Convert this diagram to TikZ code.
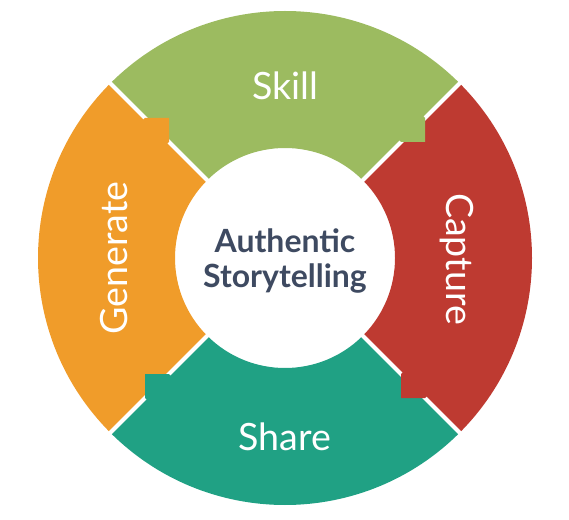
\documentclass[tikz,border=0pt]{standalone}
\usepackage{fontspec}
\setmainfont{Lato}
\usetikzlibrary{positioning}

\definecolor{skillgreen}{RGB}{156,187,96}
\definecolor{capturered}{RGB}{190,58,49}
\definecolor{shareteal}{RGB}{32,161,132}
\definecolor{genorange}{RGB}{240,156,42}
\definecolor{coreblue}{RGB}{62,74,97}

\begin{document}
\begin{tikzpicture}[
  seglabel/.style={text=white, inner sep=0pt, font=\fontsize{10.7}{12}\selectfont},
  corelabel/.style={text=coreblue, inner sep=0pt, align=center, font=\fontsize{9.1}{10.2}\selectfont\bfseries},
  gap/.style={white, line width=0.04cm}
]

\useasboundingbox (-2.85,-2.62) rectangle (2.84,2.58);

% Radii of the ring
\def\rin{1.10}
\def\rout{2.47}

% Skill (top)
\fill[skillgreen] (45:\rin) arc (45:135:\rin) -- (135:\rout) arc (135:45:\rout) -- cycle;
% Capture (right)
\fill[capturered] (-45:\rin) arc (-45:45:\rin) -- (45:\rout) arc (45:-45:\rout) -- cycle;
% Share (bottom)
\fill[shareteal] (-135:\rin) arc (-135:-45:\rin) -- (-45:\rout) arc (-45:-135:\rout) -- cycle;
% Generate (left)
\fill[genorange] (135:\rin) arc (135:225:\rin) -- (225:\rout) arc (225:135:\rout) -- cycle;

% White gaps between the parts
\draw[gap] (45:1.0) -- (45:2.6);
\draw[gap] (-45:1.0) -- (-45:2.6);
\draw[gap] (135:1.0) -- (135:2.6);
\draw[gap] (-135:1.0) -- (-135:2.6);

% Tabs, each part reaching into the next one clockwise
\fill[skillgreen] (1.13,1.19) -- (1.16,1.16) -- (1.40,1.16) -- (1.40,1.40) -- (1.37,1.43) -- cycle;
\begin{scope}[rotate=-90]
\fill[capturered] (1.13,1.19) -- (1.16,1.16) -- (1.40,1.16) -- (1.40,1.40) -- (1.37,1.43) -- cycle;
\end{scope}
\begin{scope}[rotate=180]
\fill[shareteal] (1.13,1.19) -- (1.16,1.16) -- (1.40,1.16) -- (1.40,1.40) -- (1.37,1.43) -- cycle;
\end{scope}
\begin{scope}[rotate=90]
\fill[genorange] (1.13,1.19) -- (1.16,1.16) -- (1.40,1.16) -- (1.40,1.40) -- (1.37,1.43) -- cycle;
\end{scope}

% Labels
\node[seglabel] (skill) at (0,1.72) {Skill};
\node[seglabel, rotate=-90] (capture) at (1.72,-0.01) {Capture};
\node[seglabel] (share) at (0,-1.79) {Share};
\node[seglabel, rotate=90] (generate) at (-1.71,0) {Generate};

% Centre
\node[corelabel] (core) at (0,-0.03) {Authentic\\Storytelling};

\end{tikzpicture}
\end{document}
